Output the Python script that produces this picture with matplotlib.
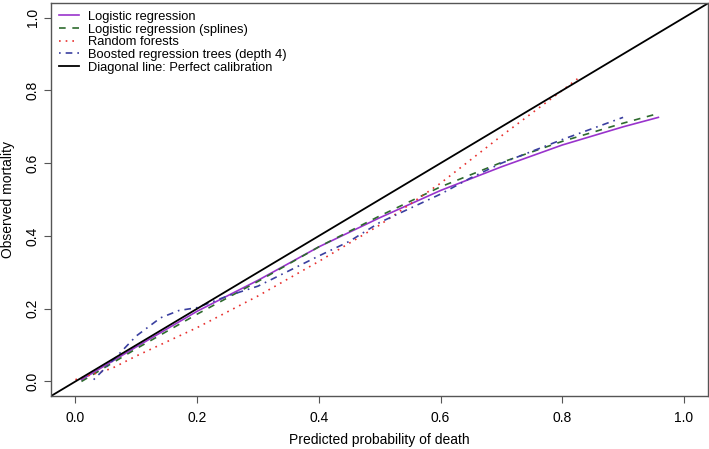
import numpy as np
import matplotlib
matplotlib.use("Agg")
import matplotlib.pyplot as plt

plt.rcParams['font.family'] = ['Liberation Sans', 'DejaVu Sans']

# calibration curves
lr_x = [0.01, 0.05, 0.1, 0.2, 0.3, 0.4, 0.45, 0.5, 0.6, 0.7, 0.8, 0.9, 0.958]
lr_y = [0.005, 0.045, 0.095, 0.193, 0.278, 0.37, 0.41, 0.45, 0.525, 0.59, 0.65, 0.70, 0.726]

spl_x = [0.01, 0.05, 0.1, 0.2, 0.3, 0.4, 0.5, 0.6, 0.7, 0.8, 0.9, 0.95]
spl_y = [0.0, 0.04, 0.09, 0.185, 0.275, 0.37, 0.455, 0.535, 0.602, 0.66, 0.71, 0.733]

rf_x = [0.0, 0.06, 0.1, 0.2, 0.3, 0.4, 0.5, 0.6, 0.7, 0.8, 0.825]
rf_y = [0.005, 0.036, 0.07, 0.148, 0.235, 0.33, 0.43, 0.545, 0.675, 0.80, 0.832]

brt_x = [0.03, 0.06, 0.1, 0.14, 0.17, 0.2, 0.25, 0.3, 0.4, 0.45, 0.5, 0.6, 0.65, 0.7, 0.8, 0.9]
brt_y = [0.005, 0.055, 0.125, 0.175, 0.195, 0.203, 0.235, 0.262, 0.345, 0.385, 0.437, 0.515, 0.56, 0.60, 0.665, 0.726]

labels = ['Logistic regression', 'Logistic regression (splines)', 'Random forests',
          'Boosted regression trees (depth 4)', 'Diagonal line: Perfect calibration']

fig = plt.figure(figsize=(7.09, 4.49), dpi=100)
ax = fig.add_axes([0.072, 0.118, 0.927, 0.875])

ax.plot(lr_x, lr_y, color='#9933CC', lw=1.2, label=labels[0])
ax.plot(spl_x, spl_y, color='#2E6B2E', lw=1.2, dashes=(4, 4), label=labels[1])
ax.plot(rf_x, rf_y, color='#E8302E', lw=1.2, dashes=(1, 3), label=labels[2])
ax.plot(brt_x, brt_y, color='#3A3FA0', lw=1.2, dashes=(1, 3, 4, 3), label=labels[3])
ax.plot([-0.04, 1.04], [-0.04, 1.04], color='black', lw=1.3, label=labels[4])

ax.set_xlim(-0.04, 1.04)
ax.set_ylim(-0.04, 1.04)
ticks = [0.0, 0.2, 0.4, 0.6, 0.8, 1.0]
ax.set_xticks(ticks)
ax.set_yticks(ticks)
ax.set_xticklabels(['%.1f' % t for t in ticks], fontsize=10)
ax.set_yticklabels(['%.1f' % t for t in ticks], fontsize=10, rotation=90, va='center')
ax.tick_params(direction='out', length=5, width=0.8, color='#555555')
ax.tick_params(axis='x', pad=6)
ax.tick_params(axis='y', pad=3)
for s in ax.spines.values():
    s.set_color('#555555')
    s.set_linewidth(1.0)

ax.set_xlabel('Predicted probability of death', fontsize=10)
ax.set_ylabel('Observed mortality', fontsize=10)
ax.xaxis.set_label_coords(0.5, -0.112)
ax.yaxis.set_label_coords(-0.065, 0.5)
ax.xaxis.label.set_va('center')
ax.yaxis.label.set_va('center')

ax.legend(loc='upper left', frameon=False, fontsize=9.3, handlelength=1.55,
          handletextpad=0.7, labelspacing=0.05, borderaxespad=0.2,
          bbox_to_anchor=(0.0, 1.0))

fig.savefig('out.png', dpi=100)
